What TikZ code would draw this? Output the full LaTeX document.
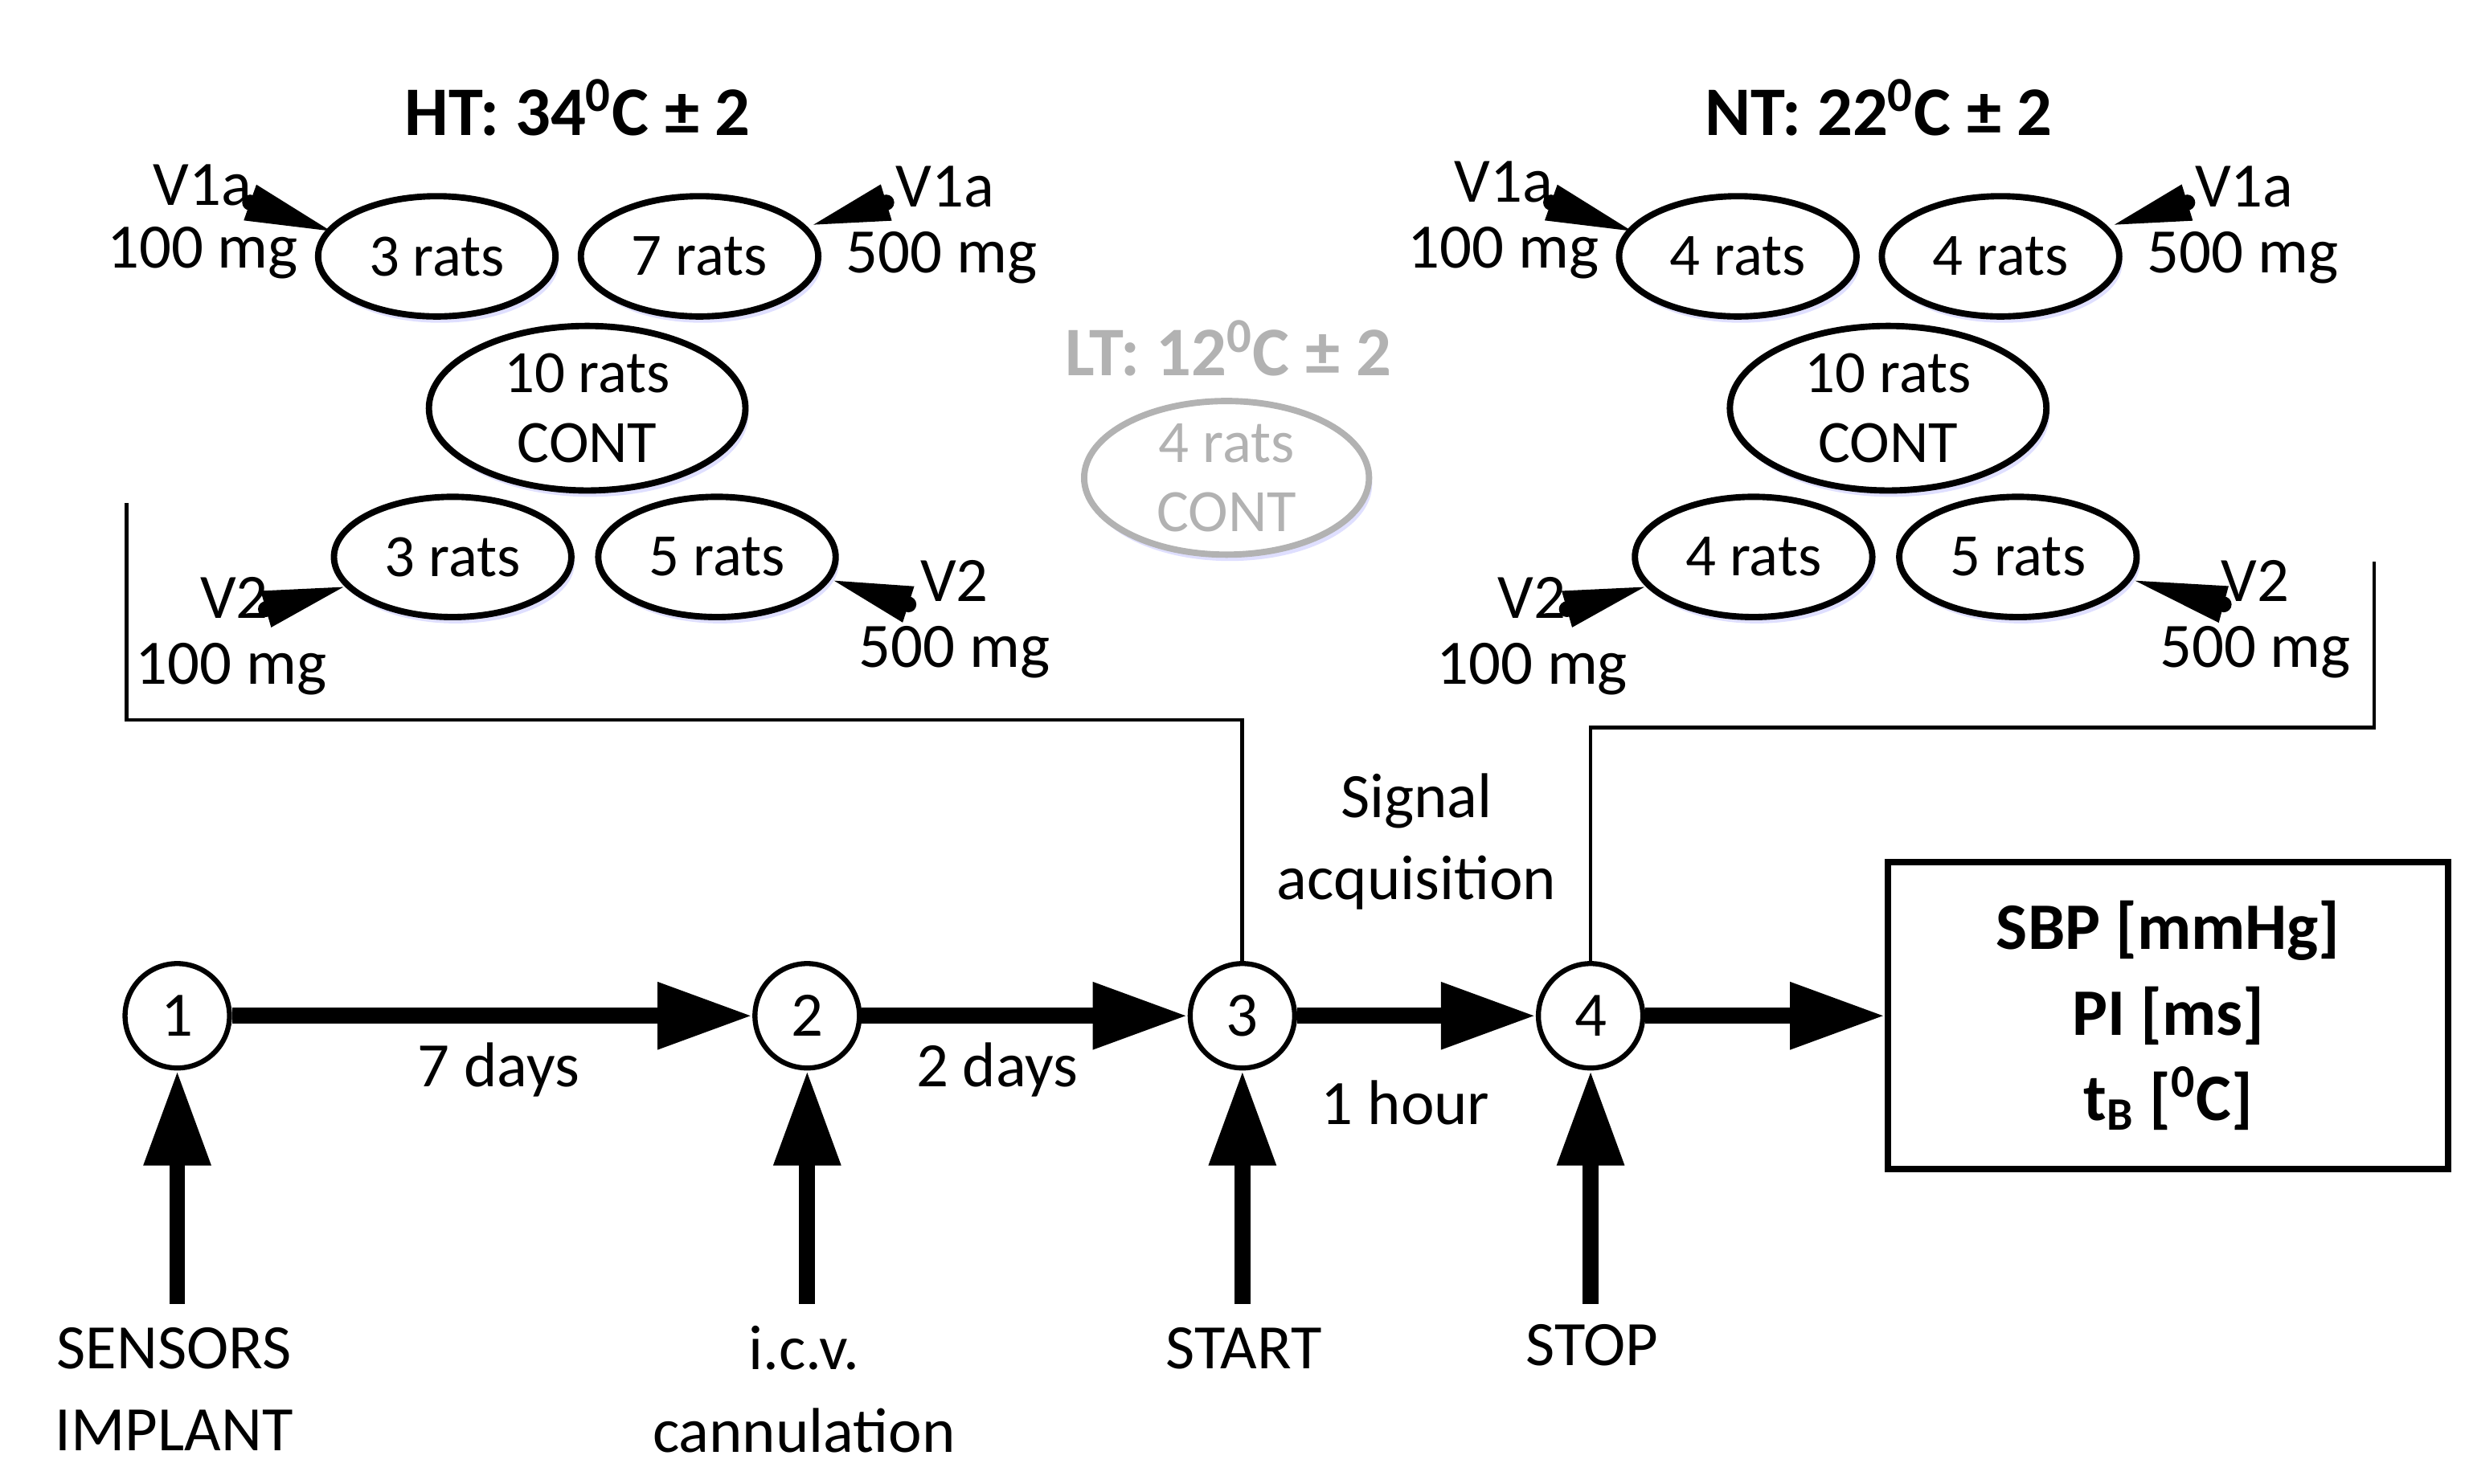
\documentclass[tikz,border=0pt]{standalone}
\usepackage{fontspec}
\setmainfont{Carlito}
\usetikzlibrary{calc,shadows,shapes.geometric,arrows.meta}
\begin{document}
\begin{tikzpicture}[x=0.5pt,y=-0.5pt,
  txt/.style={font=\fontsize{20}{22}\selectfont,inner sep=0pt,align=center},
  ttl/.style={font=\bfseries\fontsize{22}{24}\selectfont,inner sep=0pt},
  el/.style={ellipse,draw,line width=2pt,fill=white,minimum width=75pt,minimum height=38pt,inner sep=0pt,align=center,font=\fontsize{19}{22}\selectfont,
     drop shadow={shadow xshift=1pt,shadow yshift=-2pt,fill=blue!25,opacity=0.5}},
  big/.style={el,minimum width=100pt,minimum height=52pt},
  circ/.style={circle,draw,line width=1.6pt,minimum size=33pt,inner sep=0pt,font=\fontsize{20}{22}\selectfont,fill=white},
  thick arr/.style={line width=5pt,-{Triangle[length=30pt,width=20pt]}},
  brk/.style={line width=1.2pt}]
\useasboundingbox (0,0) rectangle (1560,937.5);
% titles
\node[ttl] (tht) at (365,68) {HT: 34$^{\mathbf 0}$C ± 2};
\node[ttl] (tnt) at (1187,68) {NT: 22$^{\mathbf 0}$C ± 2};
\node[ttl,text=black!30] (tlt) at (776,220) {LT: 12$^{\mathbf 0}$C ± 2};
% HT ellipses
\node[el] (h1) at (276,162) {3 rats};
\node[el] (h2) at (442,162) {7 rats};
\node[big] (h3) at (371,258) {10 rats\\CONT};
\node[el] (h4) at (286,352) {3 rats};
\node[el] (h5) at (453,352) {5 rats};
% NT ellipses
\node[el] (n1) at (1098,162) {4 rats};
\node[el] (n2) at (1264,162) {4 rats};
\node[big] (n3) at (1193,258) {10 rats\\CONT};
\node[el] (n4) at (1108,352) {4 rats};
\node[el] (n5) at (1275,352) {5 rats};
% LT
\node[el,draw=black!30,text=black!30,minimum width=90pt,minimum height=48pt] (l1) at (775,302) {4 rats\\CONT};
% dose labels
\foreach \n/\x/\y/\t in {a/128/117/V1a,b/128/160/100 mg,c/597/118/V1a,d/595/163/500 mg,
  e/148/378/V2,f/146/423/100 mg,g/603/367/V2,h/603/412/500 mg,
  i/950/115/V1a,j/950/160/100 mg,k/1418/118/V1a,l/1417/163/500 mg,
  m/968/378/V2,o/968/423/100 mg,p/1425/367/V2,q/1425/412/500 mg}
  \node[txt] (lab\n) at (\x,\y) {\t};
% wedges
\foreach \i/\bx/\by/\ax/\ay in {1/158/128/209/146,2/560/128/514/142,3/168/385/217/371,4/574/382/527/367,
  5/980/128/1031/146,6/1382/128/1336/142,7/990/385/1039/371,8/1405/382/1349/367}{
  \coordinate (wb\i) at (\bx,\by);
  \coordinate (wa\i) at (\ax,\ay);
  \fill ($(wb\i)!6pt!90:(wa\i)$) -- ($(wb\i)!6pt!-90:(wa\i)$) -- (wa\i) -- cycle;
  \fill (wb\i) circle (2.5pt);
}
% circles
\node[circ] (c1) at (112,642) {1};
\node[circ] (c2) at (510,642) {2};
\node[circ] (c3) at (785,642) {3};
\node[circ] (c4) at (1005,642) {4};
\node[draw,line width=2pt,minimum width=177pt,minimum height=97pt,inner sep=0pt,align=center,font=\bfseries\fontsize{21}{27}\selectfont] (box) at (1370,642)
  {SBP [mmHg]\\PI [ms]\\t$_{\mathbf B}$ [$^{\mathbf 0}$C]};
% brackets
\coordinate (bh) at (80,318);
\coordinate (bn) at (1500,355);
\draw[brk] (bh) -- (80,455) -| (c3.north);
\draw[brk] (bn) -- (1500,460) -| (c4.north);
% main arrows
\draw[thick arr] (c1) -- (c2);
\draw[thick arr] (c2) -- (c3);
\draw[thick arr] (c3) -- (c4);
\draw[thick arr] (c4) -- (box);
% bottom labels
\node[txt] (s1) at (110,878) {SENSORS\\[4pt]IMPLANT};
\node[txt] (s2) at (508,878) {i.c.v.\\[4pt]cannulation};
\node[txt] (s3) at (786,852) {START};
\node[txt] (s4) at (1006,850) {STOP};
\coordinate (u1) at (112,824);
\coordinate (u2) at (510,824);
\coordinate (u3) at (785,824);
\coordinate (u4) at (1005,824);
\foreach \i in {1,2,3,4} \draw[thick arr] (u\i) -- (c\i.south);
% step labels
\node[txt] (d1) at (315,676) {7 days};
\node[txt] (d2) at (630,676) {2 days};
\node[txt] (d3) at (888,697) {1 hour};
\node[txt] (sig) at (895,532) {Signal\\[4pt]acquisition};
\end{tikzpicture}
\end{document}
